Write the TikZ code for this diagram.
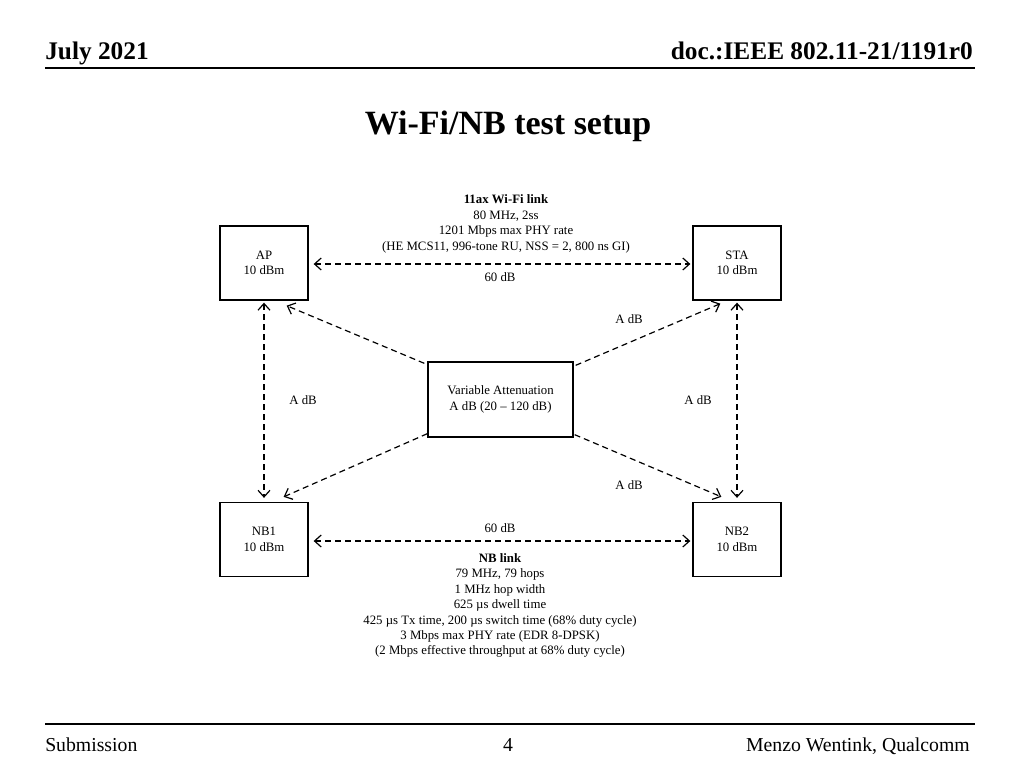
\documentclass[tikz,border=0pt]{standalone}
\usepackage{fontspec}
\setmainfont{Liberation Serif}
\usetikzlibrary{positioning,arrows.meta}
\newcommand{\lblfont}{\fontsize{9.6}{11.6}\selectfont}
\tikzset{
  >={Straight Barb[length=5pt,width=9pt]},
  dev/.style={draw,line width=1pt,minimum width=66pt,minimum height=55.5pt,
    align=center,font=\lblfont,inner sep=1pt},
  attbox/.style={dev,minimum width=108.75pt,minimum height=56.25pt},
  link/.style={line width=0.9pt,dash pattern=on 4.5pt off 3pt},
  lbl/.style={align=center,font=\lblfont,inner sep=0pt},
  hdr/.style={font=\fontsize{19}{20}\selectfont\bfseries,inner sep=0pt},
  ttl/.style={font=\fontsize{25.5}{28}\selectfont\bfseries,inner sep=0pt},
  ftr/.style={font=\fontsize{14.8}{16}\selectfont,inner sep=0pt},
  rule/.style={line width=1.1pt},
}
\begin{document}
\begin{tikzpicture}[x=0.75pt,y=-0.75pt]
  \useasboundingbox (0,0) rectangle (1024,768);
  % header
  \node[hdr,anchor=base west] (date) at (45,59) {July 2021};
  \node[hdr,anchor=base east] (doc) at (973,59) {doc.:IEEE 802.11-21/1191r0};
  \draw[rule] (45,68) -- (975,68);
  \node[ttl,anchor=base] (title) at (508,134) {Wi-Fi/NB test setup};

  % devices and attenuator
  \node[dev] (AP)  at (264,263)   {AP\\10 dBm};
  \node[dev] (STA) at (737,263)   {STA\\10 dBm};
  \node[dev] (NB1) at (264,539.5) {NB1\\10 dBm};
  \node[dev] (NB2) at (737,539.5) {NB2\\10 dBm};
  \node[attbox] (att) at (500.5,399.5) {Variable Attenuation\\A dB (20 -- 120 dB)};

  % links
  \draw[link,<->] ([shift={(5,1)}]AP.east) -- ([shift={(-2,1)}]STA.west);
  \draw[link,<->] ([shift={(5,1.5)}]NB1.east) -- ([shift={(-2,1.5)}]NB2.west);
  \draw[link,<->] ([shift={(0,2)}]AP.south) -- ([shift={(0,-4)}]NB1.north);
  \draw[link,<->] ([shift={(0,2)}]STA.south) -- ([shift={(0,-4)}]NB2.north);
  \draw[link,->] ([shift={(-3,2)}]att.north west) -- ([shift={(-22,5)}]AP.south east);
  \draw[link,->] ([shift={(2,4)}]att.north east) -- ([shift={(28,3)}]STA.south west);
  \draw[link,->] ([shift={(0,-4)}]att.south west) -- ([shift={(-25,-5)}]NB1.north east);
  \draw[link,->] ([shift={(1,-3)}]att.south east) -- ([shift={(29,-5)}]NB2.north west);

  % labels
  \node[lbl] (wifi) at (506,224) {\textbf{11ax Wi-Fi link}\\80 MHz, 2ss\\1201 Mbps max PHY rate\\(HE MCS11, 996-tone RU, NSS = 2, 800 ns GI)};
  \node[lbl] (topdb) at (500,277) {60 dB};
  \node[lbl] (botdb) at (500,528) {60 dB};
  \node[lbl] (aur) at (629,319) {A dB};
  \node[lbl] (al)  at (303,400) {A dB};
  \node[lbl] (ar)  at (698,400) {A dB};
  \node[lbl] (alr) at (629,485) {A dB};
  \node[lbl] (nb) at (500,605.5) {\textbf{NB link}\\79 MHz, 79 hops\\1 MHz hop width\\625 µs dwell time\\425 µs Tx time, 200 µs switch time (68\% duty cycle)\\3 Mbps max PHY rate (EDR 8-DPSK)\\(2 Mbps effective throughput at 68\% duty cycle)};

  % footer
  \draw[rule] (45,724) -- (975,724);
  \node[ftr,anchor=base west] (sub) at (45,751) {Submission};
  \node[ftr,anchor=base] (page) at (508,751) {4};
  \node[ftr,anchor=base east] (auth) at (970,751) {Menzo Wentink, Qualcomm};
\end{tikzpicture}
\end{document}
